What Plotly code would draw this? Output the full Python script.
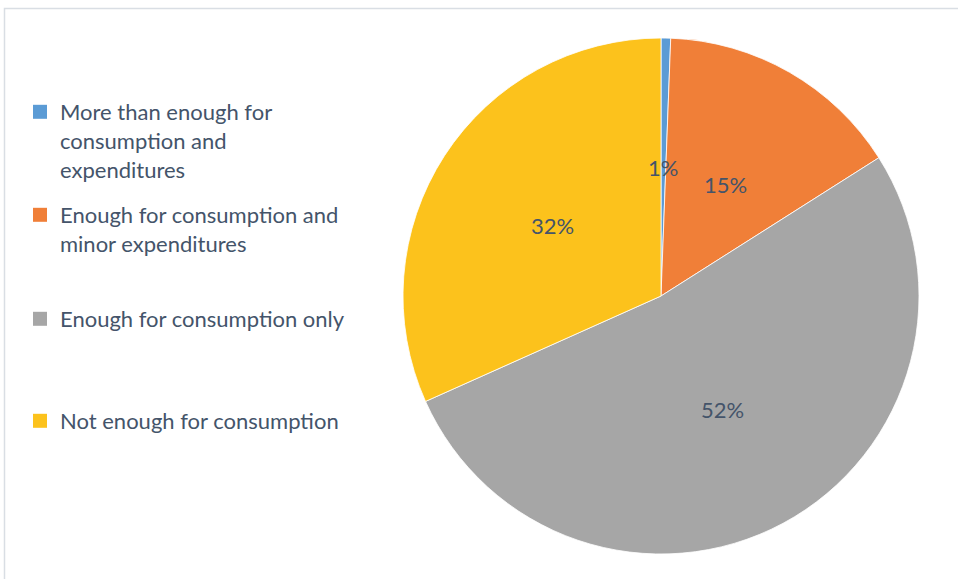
import math
import plotly.graph_objects as go

# Share of households by sufficiency of income (percent)
categories = [
    "More than enough for<br>consumption and<br>expenditures",
    "Enough for consumption and<br>minor expenditures",
    "Enough for consumption only",
    "Not enough for consumption",
]
values = [0.6, 15.4, 52.3, 31.7]
colors = ["#5B9BD5", "#F07F38", "#A6A6A6", "#FCC21C"]

W, H = 958, 579
CX, CY, R = 661, 296, 258          # pie centre and radius in pixels
TEXT = "#44546A"
FONT = "Lato"

fig = go.Figure()

fig.add_trace(go.Pie(
    labels=categories,
    values=values,
    sort=False,
    direction="clockwise",
    rotation=0,
    marker=dict(colors=colors, line=dict(color="white", width=0.8)),
    textinfo="none",
    hoverinfo="label+percent",
    showlegend=False,
    domain=dict(x=[(CX - R) / W, (CX + R) / W],
                y=[(H - CY - R) / H, (H - CY + R) / H]),
))

# Percent labels at half the radius, along each slice's mid angle
total = sum(values)
cum = 0.0
for v in values:
    mid = (cum + v / 2) / total * 2 * math.pi
    cum += v
    px = CX + 0.5 * R * math.sin(mid)
    py = CY - 0.5 * R * math.cos(mid)
    fig.add_annotation(
        x=px / W, y=1 - py / H, xref="paper", yref="paper",
        xanchor="center", yanchor="middle",
        text=f"{round(v / total * 100)}%", showarrow=False,
        font=dict(family=FONT, size=22, color=TEXT),
    )

# Legend entries, one legend per entry so they sit on an even grid
legend_tops = [91, 194, 298, 400]
for i, (name, col) in enumerate(zip(categories, colors)):
    key = "legend" if i == 0 else f"legend{i + 1}"
    fig.add_trace(go.Scatter(
        x=[None], y=[None], mode="markers", name=name,
        marker=dict(symbol="square", size=14, color=col),
        legend=key, hoverinfo="skip",
    ))
    fig.update_layout(**{key: dict(
        x=20 / W, y=1 - legend_tops[i] / H, xanchor="left", yanchor="top",
        valign="top", bgcolor="rgba(0,0,0,0)", borderwidth=0,
        font=dict(family=FONT, size=22, color=TEXT),
    )})

fig.update_layout(
    width=W, height=H,
    margin=dict(l=0, r=0, t=0, b=0),
    paper_bgcolor="white", plot_bgcolor="white",
    xaxis=dict(visible=False), yaxis=dict(visible=False),
    shapes=[dict(type="rect", xref="paper", yref="paper",
                 x0=4.5 / W, x1=1.05, y0=-0.05, y1=1 - 8.5 / H,
                 line=dict(color="#D9DEE4", width=1.5))],
)

fig.write_html("out.html")
